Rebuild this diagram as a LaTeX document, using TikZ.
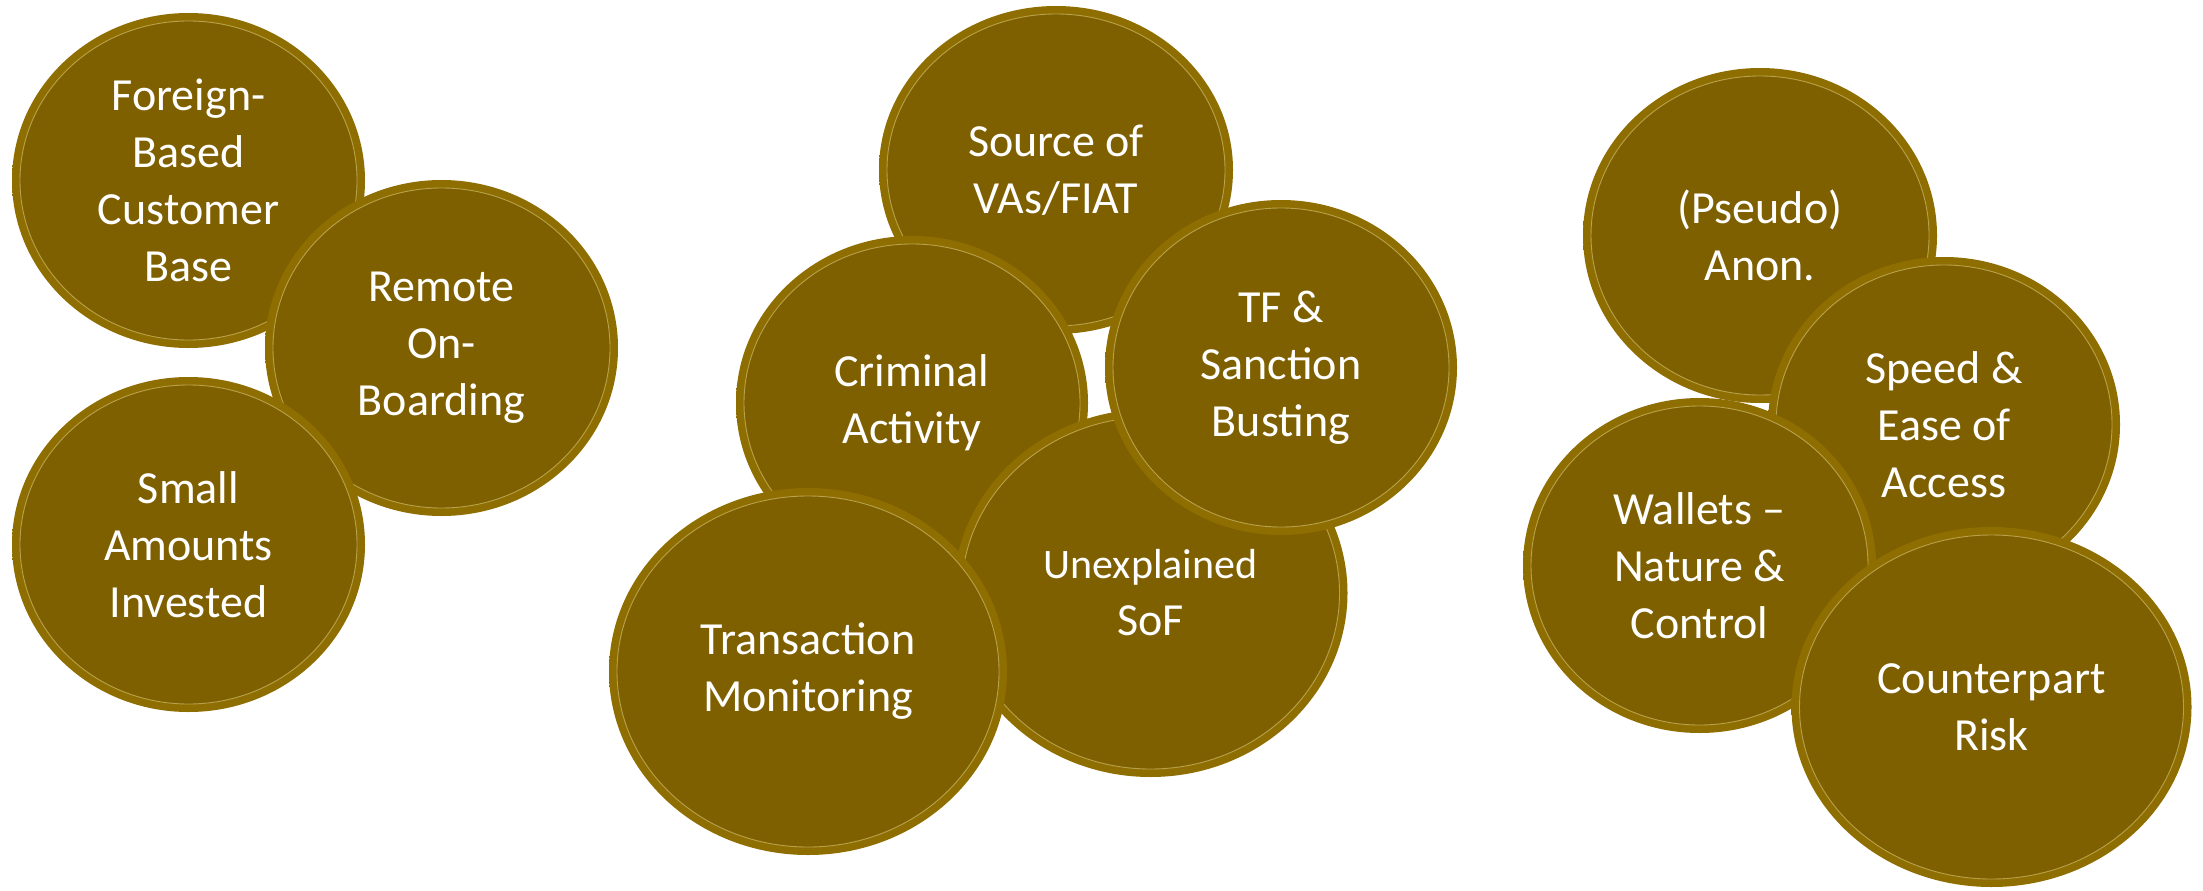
\documentclass[tikz,border=0pt]{standalone}
\usepackage{fontspec}
\setmainfont{Carlito}
\definecolor{coindark}{RGB}{127,96,0}
\definecolor{coinrim}{RGB}{142,110,0}
\definecolor{coinmid}{RGB}{164,132,10}
\definecolor{coinlight}{RGB}{206,178,44}
\definecolor{coinedgecol}{RGB}{226,210,140}
\pgfdeclareradialshading{coinbevel}{\pgfpoint{0bp}{0bp}}{color(0bp)=(coindark); color(44bp)=(coindark); color(47.8bp)=(coinmid); color(50bp)=(coinlight)}
\pgfdeclareradialshading{rimshade}{\pgfpoint{0bp}{0bp}}{color(0bp)=(coinrim); color(46bp)=(coinrim); color(50bp)=(coinmid)}
\tikzset{
  cointext/.style={text=white, align=center, inner sep=0pt},
  coinedge/.style={draw=coinedgecol, line width=0.9pt, opacity=0.55}
}
\newcommand\mkcoin[7]{%
  \shade[shading=rimshade] (#2,#3) ellipse [x radius=#4pt, y radius=#5pt];
  \shade[shading=coinbevel] (#2,#3) ellipse [x radius=#4pt-8pt, y radius=#5pt-8pt];
  \draw[coinedge] (#2,#3) ellipse [x radius=#4pt-8pt, y radius=#5pt-8pt];
  \node[cointext, font=\fontsize{#6}{57}\selectfont] (#1) at (#2,#3) {#7};
}
\begin{document}
\begin{tikzpicture}[x=1pt, y=-1pt]
\fill[white] (0,0) rectangle (2203,891);
\useasboundingbox (0,0) rectangle (2203,891);
% left group
\mkcoin{foreign}{188.5}{180.5}{176.5}{167.5}{46}{Foreign-\\Based\\Customer\\Base}
\mkcoin{remote}{441.5}{348}{176.5}{168}{46}{Remote\\On-\\Boarding}
\mkcoin{small}{188.5}{544.5}{176.5}{167.5}{46}{Small\\Amounts\\Invested}
% middle group
\mkcoin{source}{1056}{170}{177}{164}{46}{Source of\\VAs/FIAT}
\mkcoin{criminal}{912}{403}{176}{167}{46}{Criminal\\Activity}
\mkcoin{unexplained}{1150.5}{593}{197}{184}{46}{{\fontsize{42}{57}\selectfont Unexplained}\\SoF}
\mkcoin{tf}{1281}{367.5}{176}{167.5}{46}{TF \&\\Sanction\\Busting}
\mkcoin{transaction}{808}{671.5}{199}{183.5}{46}{Transaction\\Monitoring}
% right group
\mkcoin{pseudo}{1760}{235.5}{177}{167.5}{46}{(Pseudo)\\Anon.}
\mkcoin{speed}{1944}{424.5}{176}{167.5}{46}{Speed \&\\Ease of\\Access}
\mkcoin{wallets}{1699.5}{565.5}{176.5}{167.5}{46}{Wallets –\\Nature \&\\Control}
\mkcoin{counterpart}{1991.5}{707}{200}{180}{46}{Counterpart\\Risk}
\end{tikzpicture}
\end{document}
